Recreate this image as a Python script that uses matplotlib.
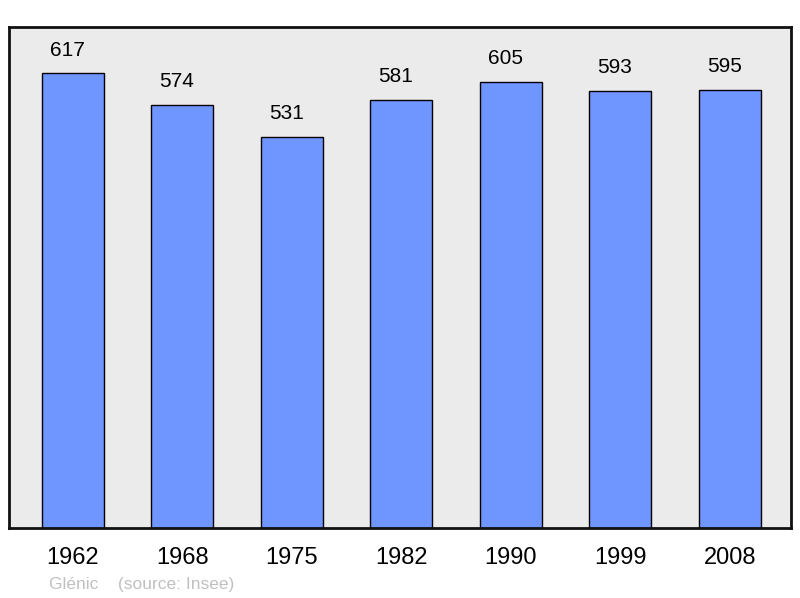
import matplotlib.pyplot as plt

plt.rcParams["font.family"] = ["Liberation Sans", "DejaVu Sans"]

years = ["1962", "1968", "1975", "1982", "1990", "1999", "2008"]
population = [617, 574, 531, 581, 605, 593, 595]

fig = plt.figure(figsize=(8, 5.98), dpi=100)
ax = fig.add_axes([9 / 800, 70 / 598, 782 / 800, 501 / 598])
ax.set_facecolor("#ebebeb")

x = range(len(years))
ax.bar(x, population, width=0.566, color="#6f96ff", edgecolor="black", linewidth=1.0, zorder=2)

for i, v in enumerate(population):
    ax.annotate(str(v), (i, v), xytext=(-4, 10), textcoords="offset points",
                ha="center", va="bottom", fontsize=15, color="black")

ax.set_xlim(-0.584, 6.56)
ax.set_ylim(0, 680)
ax.set_xticks(list(x))
ax.set_xticklabels(years, fontsize=17)
ax.tick_params(axis="x", length=0, pad=14)
ax.set_yticks([])
for s in ax.spines.values():
    s.set_linewidth(2)
    s.set_color("#111111")

fig.text(49 / 800, 1 - 584 / 598, "Glénic    (source: Insee)", fontsize=12.5,
         color="#c0c0c0", va="center", ha="left")

fig.savefig("out.png", dpi=100)
